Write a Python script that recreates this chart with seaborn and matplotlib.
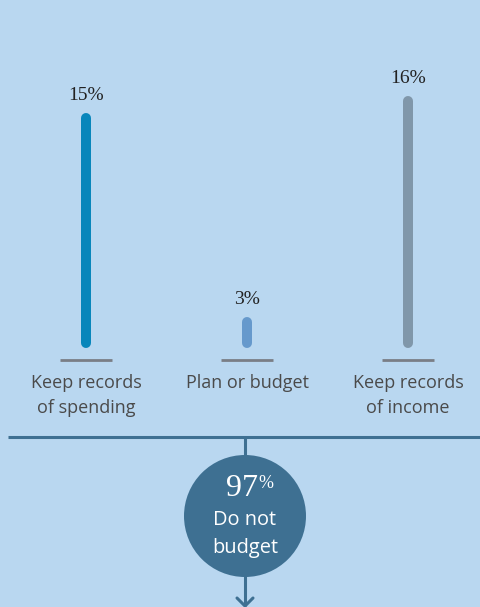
import numpy as np
import pandas as pd
import matplotlib.pyplot as plt
import seaborn as sns

# values
categories = ["Keep records\nof spending", "Plan or budget", "Keep records\nof income"]
shares = [15, 3, 16]
bar_colors = ["#0886bb", "#6699cc", "#8097aa"]
no_budget_share = 97
no_budget_label = "Do not\nbudget"

BG = "#b9d7f0"
DARK = "#3e7092"
GREY = "#7a7e86"
TEXT = "#4a4a4a"

sns.set_theme(style="white")
plt.rcParams["font.family"] = ["Open Sans", "DejaVu Sans"]

df = pd.DataFrame({"category": categories, "share": shares, "color": bar_colors})

fig = plt.figure(figsize=(4.8, 6.07), dpi=100)
fig.patch.set_facecolor(BG)
ax = fig.add_axes([0, 0, 1, 1])
ax.set_facecolor(BG)
ax.set_axis_off()

# 161 px per category, 17 px per percentage point, 0% sits at y=373px
ax.set_xlim(-86 / 161, (480 - 86) / 161)
ax.set_ylim((373 - 607) / 17, 373 / 17)

stem_base = 1.75    # stems float a little above the base line
rule_y = 0.76       # grey rule under each stem

for i, row in df.iterrows():
    ax.plot([i, i], [stem_base, row["share"]], color=row["color"], lw=7.2,
            solid_capstyle="round", zorder=3)
    ax.annotate(f"{row['share']}%", (i, row["share"]), xytext=(0, 16.5),
                textcoords="offset points", ha="center", va="center",
                fontsize=14, family=["Liberation Serif", "DejaVu Serif"],
                color="#222222")
    ax.plot([i - 0.16, i + 0.16], [rule_y, rule_y], color=GREY, lw=2.0,
            solid_capstyle="butt")
    first = row["category"].split("\n")
    for j, line in enumerate(first):
        ax.text(i, -0.59 - j * 1.47, line, ha="center", va="center",
                fontsize=13, color=TEXT)

# flow part below the bars, in figure pixels -> axes fraction
def fy(px):
    return 1 - px / 607

def fx(px):
    return px / 480

tr = ax.transAxes
line_kw = dict(color=DARK, lw=2.2, transform=tr, solid_capstyle="butt")
ax.plot([fx(8), fx(480)], [fy(437), fy(437)], **line_kw)
ax.plot([fx(245), fx(245)], [fy(437), fy(470)], **line_kw)
ax.plot([fx(245), fx(245)], [fy(560), fy(606)], **line_kw)
ax.plot([fx(237), fx(245), fx(253)], [fy(598), fy(606), fy(598)],
        color=DARK, lw=2.2, transform=tr, solid_joinstyle="miter")

circle = pd.DataFrame({"x": [fx(245)], "y": [fy(516)]})
sns.scatterplot(data=circle, x="x", y="y", s=(2 * 61 * 0.72) ** 2,
                color=DARK, edgecolor="none", ax=ax, transform=tr,
                zorder=4, legend=False)

ax.text(fx(242), fy(489), f"{no_budget_share}", transform=tr, ha="center",
        va="center", fontsize=23, color="white", zorder=5,
        family=["Liberation Serif", "DejaVu Serif"])
ax.text(fx(266), fy(484), "%", transform=tr, ha="center", va="center",
        fontsize=13, color="white", zorder=5,
        family=["Liberation Serif", "DejaVu Serif"])
for j, line in enumerate(no_budget_label.split("\n")):
    ax.text(fx(245), fy(520 + j * 28), line, transform=tr, ha="center",
            va="center", fontsize=14.4, color="white", zorder=5)

fig.savefig("out.png", dpi=100, facecolor=BG)
